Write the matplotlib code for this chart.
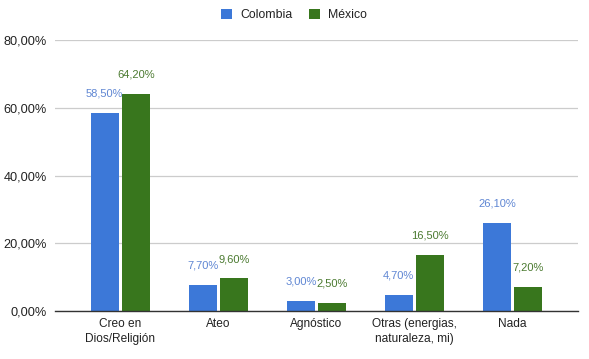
import matplotlib
matplotlib.use("Agg")
import matplotlib.pyplot as plt
import numpy as np

categories = ["Creo en\nDios/Religión", "Ateo", "Agnóstico", "Otras (energias,\nnaturaleza, mi)", "Nada"]
colombia = [58.5, 7.7, 3.0, 4.7, 26.1]
mexico = [64.2, 9.6, 2.5, 16.5, 7.2]
series_names = ["Colombia", "México"]
yticks = [0, 20, 40, 60, 80]

def fmt(v):
    return f"{v:.2f}".replace(".", ",") + "%"

plt.rcParams['font.family'] = ['Liberation Sans', 'DejaVu Sans']

W, H = 589, 359
fig = plt.figure(figsize=(W/100, H/100), dpi=100)
ax = fig.add_axes([55/W, 1-311/H, (578-55)/W, (311-40)/H])

blue = "#3c78d8"
green = "#38761d"
blue_lbl = "#5f86d3"
green_lbl = "#4b7a30"

x = np.arange(len(categories))
off = 0.16
bw = 0.29
b1 = ax.bar(x - off, colombia, bw, color=blue, zorder=3, label=series_names[0])
b2 = ax.bar(x + off, mexico, bw, color=green, zorder=3, label=series_names[1])

for bars, vals, c in [(b1, colombia, blue_lbl), (b2, mexico, green_lbl)]:
    for r, v in zip(bars, vals):
        ax.annotate(fmt(v), (r.get_x() + r.get_width()/2, v), xytext=(0, 14),
                    textcoords="offset points", ha="center", va="center",
                    fontsize=8.0, color=c)

ax.set_xlim(-0.668, 4.668)
ax.set_ylim(0, 80)
ax.set_yticks(yticks)
ax.set_yticklabels([fmt(v) for v in yticks], fontsize=9.2, color="#222222")
ax.set_xticks(x)
ax.set_xticklabels(categories, fontsize=8.6, color="#222222", linespacing=1.3)
ax.tick_params(axis="both", length=0)
ax.tick_params(axis="y", pad=6)
ax.tick_params(axis="x", pad=5)
ax.grid(axis="y", color="#cccccc", linewidth=0.9, zorder=0)
for s in ["top", "right", "left"]:
    ax.spines[s].set_visible(False)
ax.spines["bottom"].set_color("#333333")
ax.spines["bottom"].set_linewidth(1.0)
ax.spines["bottom"].set_zorder(4)

leg = fig.legend(handles=[b1, b2], labels=series_names, loc="center", bbox_to_anchor=(294/W, 1-15/H),
                 ncol=2, frameon=False, fontsize=8.8, handlelength=0.9, handleheight=0.9,
                 handletextpad=0.7, columnspacing=1.3)
for t in leg.get_texts():
    t.set_color("#222222")

fig.savefig("out.png", dpi=100)
